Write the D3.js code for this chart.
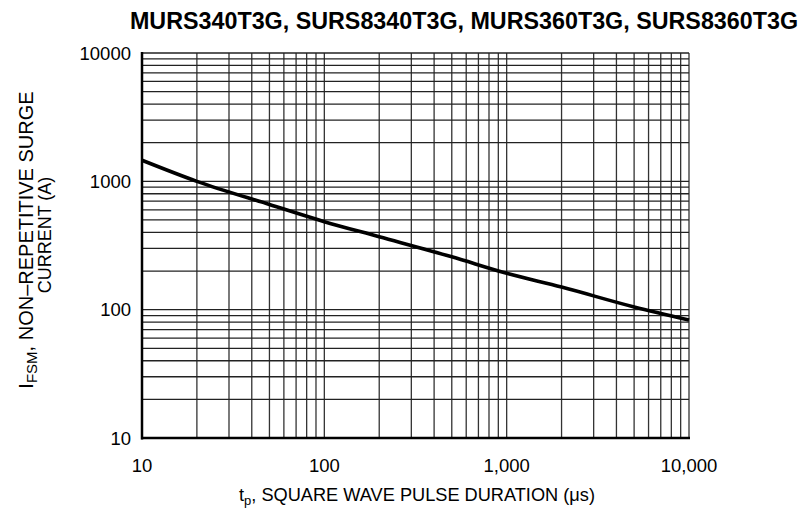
<!DOCTYPE html>
<html><head><meta charset="utf-8">
<script src="https://cdn.jsdelivr.net/npm/d3@7"></script>
<style>
body{margin:0;background:#fff}
text{font-family:"Liberation Sans",Arial,sans-serif;fill:#000}
</style>
</head><body><div id="chart"></div><script>
// chart values
const titleText = "MURS340T3G, SURS8340T3G, MURS360T3G, SURS8360T3G";
const pulseUs = [10, 20, 50, 100, 200, 500, 1000, 2000, 5000, 10000];
const surgeA = [1460, 1000, 660, 485, 370, 258, 192, 150, 105, 83];
const xTicks = [10, 100, 1000, 10000];
const xTickLabels = ["10", "100", "1,000", "10,000"];
const yTicks = [10, 100, 1000, 10000];
const yTickLabels = ["10", "100", "1000", "10000"];

// dimensions
const margin = {top: 53, right: 114, bottom: 74, left: 142},
      width = 803 - margin.left - margin.right,
      height = 512 - margin.top - margin.bottom;

const svg = d3.select("#chart")
  .append("svg")
  .attr("width", 803)
  .attr("height", 512);

const g = svg.append("g")
  .attr("transform", `translate(${margin.left},${margin.top})`);

const x = d3.scaleLog().domain([10, 10000]).range([0, width]);
const y = d3.scaleLog().domain([10, 10000]).range([height, 0]);

// log grid: 1..9 in every decade
const gridVals = [];
[10, 100, 1000].forEach(d => { for (let k = 1; k <= 9; k++) gridVals.push(d * k); });
gridVals.push(10000);

g.append("g").selectAll("line")
  .data(gridVals)
  .join("line")
  .attr("x1", d => x(d)).attr("x2", d => x(d))
  .attr("y1", 0).attr("y2", height)
  .attr("stroke", "#333").attr("stroke-width", 1.3);

g.append("g").selectAll("line")
  .data(gridVals)
  .join("line")
  .attr("y1", d => y(d)).attr("y2", d => y(d))
  .attr("x1", 0).attr("x2", width)
  .attr("stroke", "#222").attr("stroke-width", 1.3);

// frame
g.append("line").attr("x1", 0).attr("x2", 0).attr("y1", -1).attr("y2", height + 1.5)
  .attr("stroke", "#000").attr("stroke-width", 2.5);
g.append("line").attr("x1", -1).attr("x2", width + 1).attr("y1", height).attr("y2", height)
  .attr("stroke", "#000").attr("stroke-width", 2.5);

// curve
const pts = pulseUs.map((t, i) => [x(t), y(surgeA[i])]);
g.append("path")
  .attr("d", d3.line().curve(d3.curveMonotoneX)(pts))
  .attr("fill", "none")
  .attr("stroke", "#000")
  .attr("stroke-width", 3.6);

// tick labels
g.append("g").selectAll("text")
  .data(xTicks)
  .join("text")
  .attr("x", d => x(d))
  .attr("y", height + 34)
  .attr("text-anchor", "middle")
  .style("font-size", "18.5px")
  .text((d, i) => xTickLabels[i]);

g.append("g").selectAll("text")
  .data(yTicks)
  .join("text")
  .attr("x", -11)
  .attr("y", d => y(d) + 6.5)
  .attr("text-anchor", "end")
  .style("font-size", "18.5px")
  .text((d, i) => yTickLabels[i]);

// title
svg.append("text")
  .attr("x", 464).attr("y", 29)
  .attr("text-anchor", "middle")
  .style("font-size", "23.3px").style("font-weight", "bold")
  .text(titleText);

// x axis title
const xt = svg.append("text")
  .attr("x", 417).attr("y", 501)
  .attr("text-anchor", "middle")
  .style("font-size", "18.2px");
xt.append("tspan").text("t");
xt.append("tspan").attr("baseline-shift", "-4px").style("font-size", "13px").text("p");
xt.append("tspan").text(", SQUARE WAVE PULSE DURATION (\u03bcs)");

// y axis title (two lines)
const yt = svg.append("text")
  .attr("transform", `translate(33,240) rotate(-90)`)
  .attr("text-anchor", "middle")
  .style("font-size", "20px");
yt.append("tspan").text("I");
yt.append("tspan").attr("baseline-shift", "-4px").style("font-size", "15px").text("FSM");
yt.append("tspan").text(", NON\u2013REPETITIVE SURGE");

svg.append("text")
  .attr("transform", `translate(51,235) rotate(-90)`)
  .attr("text-anchor", "middle")
  .style("font-size", "18px")
  .text("CURRENT (A)");
</script></body></html>
